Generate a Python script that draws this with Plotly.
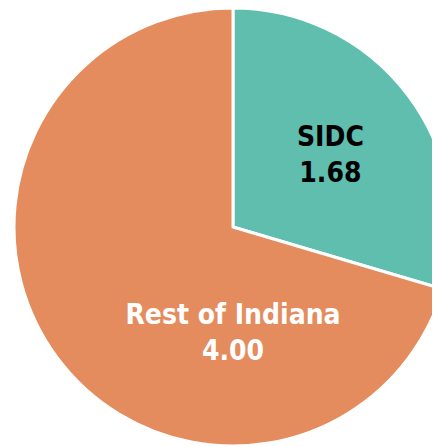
import plotly.graph_objects as go

labels = ["SIDC", "Rest of Indiana"]
values = [1.68, 4.00]
colors = ["#5FBEAE", "#E48C5D"]
text_colors = ["#000000", "#FFFFFF"]

fig = go.Figure(go.Pie(
    labels=labels,
    values=values,
    sort=False,
    direction="clockwise",
    rotation=0,
    marker=dict(colors=colors, line=dict(color="#FFFFFF", width=3)),
    texttemplate="%{label}<br>%{value:.2f}",
    textposition="inside",
    insidetextorientation="horizontal",
    textfont=dict(family="DejaVu Sans Condensed, DejaVu Sans", size=28,
                  weight="bold", color=text_colors),
    showlegend=False,
    hoverinfo="label+value",
))

fig.update_layout(
    width=450,
    height=447,
    margin=dict(l=0, r=0, t=0, b=9),
    paper_bgcolor="#FFFFFF",
    plot_bgcolor="#FFFFFF",
    uniformtext=dict(minsize=28, mode="show"),
)

fig.write_html("out.html")
